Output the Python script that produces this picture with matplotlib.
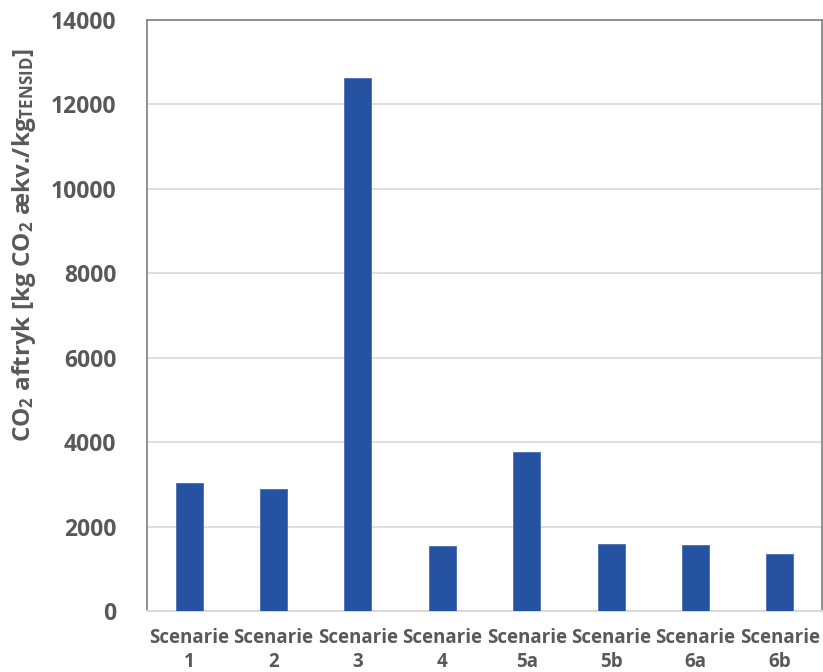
import matplotlib
matplotlib.use("Agg")
import matplotlib.pyplot as plt

plt.rcParams['font.family'] = ['Open Sans', 'DejaVu Sans']
plt.rcParams['font.weight'] = 'bold'
plt.rcParams['mathtext.fontset'] = 'custom'
plt.rcParams['mathtext.rm'] = 'Open Sans:bold'
plt.rcParams['mathtext.it'] = 'Open Sans:bold'
plt.rcParams['mathtext.bf'] = 'Open Sans:bold'
plt.rcParams['mathtext.default'] = 'rm'

scenarios = ["Scenarie\n1", "Scenarie\n2", "Scenarie\n3", "Scenarie\n4",
             "Scenarie\n5a", "Scenarie\n5b", "Scenarie\n6a", "Scenarie\n6b"]
co2_footprint = [3030, 2890, 12620, 1550, 3770, 1580, 1560, 1340]
y_ticks = [0, 2000, 4000, 6000, 8000, 10000, 12000, 14000]

text_gray = '#595959'
bar_blue = '#2652A2'

fig = plt.figure(figsize=(8.23, 6.72), dpi=100)
ax = fig.add_axes([147 / 823, 1 - 611 / 672, 675 / 823, 591 / 672])

x = range(len(scenarios))
ax.bar(x, co2_footprint, width=0.32, color=bar_blue, edgecolor='#4A6DB3',
       linewidth=0.6, zorder=3)

ax.set_xlim(-0.5, len(scenarios) - 0.5)
ax.set_ylim(0, 14000)
ax.set_yticks(y_ticks)
ax.set_yticklabels([str(v) for v in y_ticks])
ax.set_xticks(list(x))
ax.set_xticklabels(scenarios, linespacing=1.3)

ax.yaxis.grid(True, color='#D9D9D9', linewidth=1.2, zorder=0)
ax.set_axisbelow(True)

for side in ('left', 'top', 'right'):
    ax.spines[side].set_color('#7F7F7F')
    ax.spines[side].set_linewidth(1.2)
ax.spines['bottom'].set_color('#D9D9D9')
ax.spines['bottom'].set_linewidth(1.5)

ax.tick_params(axis='y', length=0, pad=22, labelsize=16.5, labelcolor=text_gray)
ax.tick_params(axis='x', length=0, pad=12, labelsize=13.5, labelcolor=text_gray)

fig.text(24 / 823, 1 - 245 / 672,
         r'CO$_2$ aftryk [kg CO$_2$ ækv./kg$_{TENSID}$]',
         rotation=90, ha='center', va='center', fontsize=17.5,
         color=text_gray, fontweight='bold')

fig.savefig('out.png', dpi=100)
